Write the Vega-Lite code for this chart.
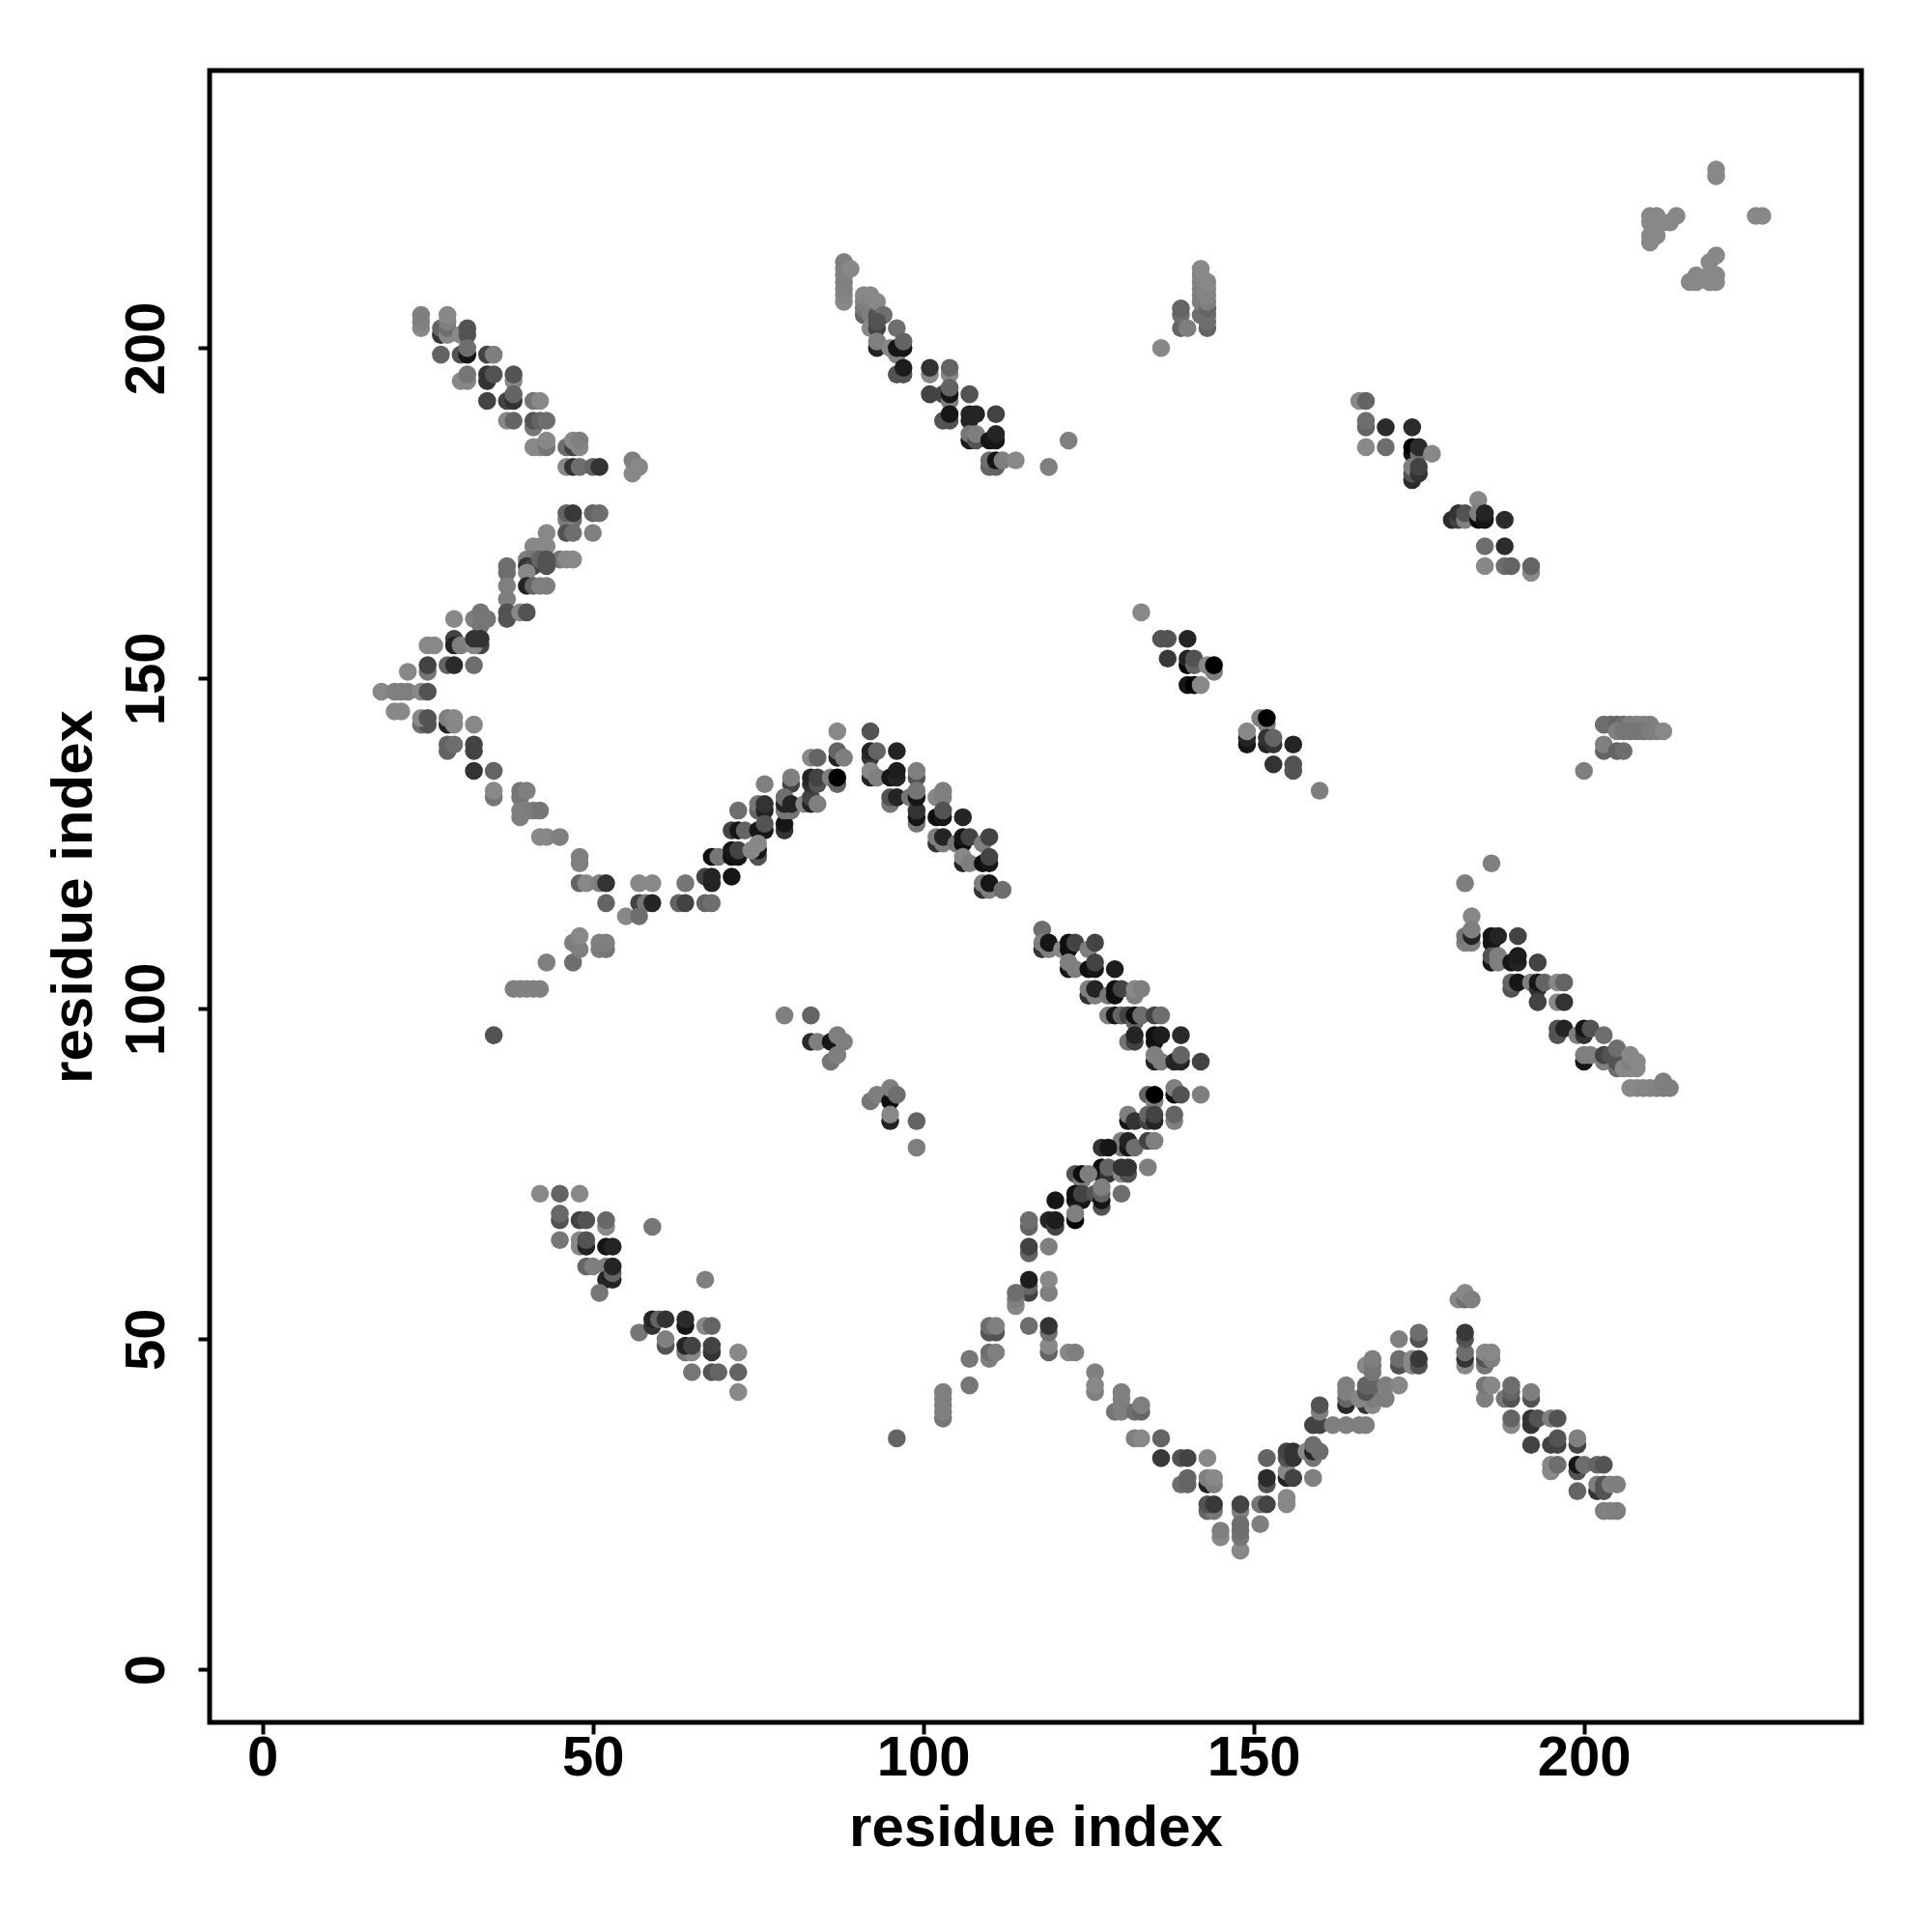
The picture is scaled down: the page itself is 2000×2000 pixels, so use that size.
{"$schema":"https://vega.github.io/schema/vega-lite/v6.json","width":1710,"height":1710,"autosize":"none","padding":{"left":217,"top":73,"right":73,"bottom":217},"background":"white","view":{"stroke":"black","strokeWidth":5},
"data":{"values":[
{"x":42,"y":72,"z":136},{"x":45,"y":72,"z":102},{"x":48,"y":72,"z":136},{"x":45,"y":68,"z":85},{"x":45,"y":69,"z":106},{"x":48,"y":68,"z":68},{"x":49,"y":68,"z":85},{"x":52,"y":67,"z":136},{"x":52,"y":68,"z":106},{"x":45,"y":65,"z":119},{"x":48,"y":64,"z":136},{"x":48,"y":65,"z":136},{"x":49,"y":64,"z":34},{"x":49,"y":65,"z":85},{"x":52,"y":64,"z":17},{"x":53,"y":64,"z":34},{"x":49,"y":61,"z":102},{"x":50,"y":61,"z":128},{"x":52,"y":61,"z":128},{"x":52,"y":59,"z":34},{"x":53,"y":59,"z":34},{"x":53,"y":60,"z":102},{"x":53,"y":61,"z":34},{"x":51,"y":57,"z":119},{"x":59,"y":67,"z":119},{"x":67,"y":59,"z":128},{"x":57,"y":51,"z":119},{"x":59,"y":52,"z":51},{"x":59,"y":53,"z":34},{"x":60,"y":53,"z":102},{"x":61,"y":53,"z":51},{"x":61,"y":49,"z":85},{"x":61,"y":50,"z":128},{"x":64,"y":52,"z":17},{"x":64,"y":53,"z":42},{"x":67,"y":52,"z":136},{"x":68,"y":52,"z":102},{"x":64,"y":48,"z":119},{"x":65,"y":48,"z":136},{"x":64,"y":49,"z":34},{"x":65,"y":49,"z":68},{"x":68,"y":48,"z":51},{"x":68,"y":49,"z":68},{"x":72,"y":48,"z":136},{"x":65,"y":45,"z":119},{"x":68,"y":45,"z":85},{"x":69,"y":45,"z":102},{"x":72,"y":45,"z":102},{"x":72,"y":42,"z":136},
{"x":37,"y":162,"z":128},{"x":37,"y":159,"z":85},{"x":37,"y":160,"z":85},{"x":39,"y":160,"z":136},{"x":40,"y":160,"z":85},{"x":29,"y":159,"z":136},{"x":33,"y":159,"z":17},{"x":32,"y":159,"z":128},{"x":33,"y":160,"z":119},{"x":34,"y":159,"z":119},{"x":33,"y":158,"z":119},{"x":29,"y":156,"z":68},{"x":29,"y":155,"z":34},{"x":30,"y":155,"z":128},{"x":33,"y":155,"z":68},{"x":32,"y":155,"z":136},{"x":32,"y":156,"z":51},{"x":33,"y":156,"z":51},{"x":25,"y":155,"z":136},{"x":26,"y":155,"z":136},{"x":25,"y":151,"z":119},{"x":25,"y":152,"z":68},{"x":28,"y":152,"z":102},{"x":29,"y":152,"z":42},{"x":32,"y":152,"z":112},{"x":22,"y":151,"z":136},{"x":18,"y":148,"z":136},{"x":20,"y":148,"z":130},{"x":21,"y":148,"z":128},{"x":22,"y":148,"z":128},{"x":24,"y":148,"z":136},{"x":25,"y":148,"z":85},{"x":20,"y":145,"z":136},{"x":21,"y":145,"z":136},{"x":24,"y":143,"z":112},{"x":25,"y":143,"z":85},{"x":24,"y":144,"z":136},{"x":25,"y":144,"z":85},{"x":28,"y":143,"z":34},{"x":29,"y":143,"z":136},{"x":28,"y":144,"z":128},{"x":29,"y":144,"z":136},{"x":32,"y":143,"z":136},{"x":28,"y":139,"z":102},{"x":28,"y":140,"z":102},{"x":29,"y":140,"z":112},{"x":32,"y":139,"z":68},{"x":32,"y":140,"z":68},{"x":32,"y":136,"z":51},{"x":35,"y":136,"z":102},{"x":35,"y":132,"z":119},{"x":35,"y":133,"z":136},{"x":39,"y":132,"z":119},{"x":39,"y":133,"z":119},{"x":40,"y":133,"z":128},{"x":39,"y":129,"z":128},{"x":39,"y":130,"z":128},{"x":40,"y":130,"z":128},{"x":41,"y":130,"z":125},{"x":42,"y":130,"z":119},{"x":42,"y":126,"z":136},{"x":43,"y":126,"z":136},{"x":45,"y":126,"z":128},{"x":48,"y":122,"z":128},{"x":48,"y":123,"z":128},{"x":48,"y":119,"z":102},{"x":49,"y":119,"z":136},{"x":51,"y":119,"z":128},{"x":52,"y":119,"z":51},{"x":52,"y":116,"z":102},{"x":57,"y":119,"z":136},{"x":59,"y":119,"z":136},{"x":57,"y":116,"z":68},{"x":58,"y":116,"z":119},{"x":59,"y":116,"z":34},{"x":55,"y":114,"z":136},{"x":57,"y":114,"z":112},
{"x":24,"y":203,"z":136},{"x":24,"y":204,"z":130},{"x":24,"y":205,"z":128},{"x":27,"y":202,"z":51},{"x":27,"y":203,"z":102},{"x":28,"y":202,"z":136},{"x":28,"y":203,"z":112},{"x":28,"y":204,"z":128},{"x":28,"y":205,"z":136},{"x":30,"y":202,"z":136},{"x":31,"y":202,"z":85},{"x":31,"y":203,"z":85},{"x":27,"y":199,"z":102},{"x":30,"y":199,"z":85},{"x":31,"y":199,"z":17},{"x":31,"y":200,"z":112},{"x":34,"y":199,"z":68},{"x":35,"y":199,"z":128},{"x":30,"y":195,"z":136},{"x":31,"y":195,"z":136},{"x":31,"y":196,"z":119},{"x":34,"y":195,"z":51},{"x":34,"y":196,"z":51},{"x":35,"y":196,"z":85},{"x":38,"y":195,"z":136},{"x":38,"y":196,"z":85},{"x":34,"y":192,"z":68},{"x":37,"y":192,"z":68},{"x":38,"y":192,"z":51},{"x":38,"y":193,"z":102},{"x":41,"y":192,"z":119},{"x":42,"y":192,"z":136},{"x":37,"y":189,"z":136},{"x":38,"y":189,"z":102},{"x":41,"y":188,"z":119},{"x":41,"y":189,"z":85},{"x":42,"y":189,"z":102},{"x":43,"y":189,"z":112},{"x":41,"y":185,"z":136},{"x":42,"y":185,"z":136},{"x":43,"y":185,"z":119},{"x":43,"y":186,"z":136},{"x":46,"y":185,"z":112},{"x":47,"y":185,"z":68},{"x":47,"y":186,"z":136},{"x":48,"y":185,"z":136},{"x":48,"y":186,"z":128},{"x":46,"y":182,"z":136},{"x":47,"y":182,"z":51},{"x":48,"y":182,"z":112},{"x":50,"y":182,"z":102},{"x":51,"y":182,"z":51},{"x":56,"y":181,"z":136},{"x":56,"y":183,"z":128},{"x":57,"y":182,"z":136},{"x":47,"y":174,"z":112},{"x":46,"y":174,"z":128},{"x":46,"y":175,"z":102},{"x":47,"y":175,"z":58},{"x":50,"y":175,"z":102},{"x":51,"y":175,"z":112},{"x":46,"y":172,"z":85},{"x":47,"y":172,"z":112},{"x":50,"y":172,"z":128},{"x":43,"y":172,"z":136},{"x":41,"y":170,"z":136},{"x":42,"y":170,"z":136},{"x":43,"y":170,"z":136},{"x":40,"y":168,"z":128},{"x":41,"y":168,"z":119},{"x":42,"y":168,"z":112},{"x":45,"y":168,"z":119},{"x":46,"y":168,"z":136},{"x":47,"y":168,"z":136},{"x":40,"y":167,"z":51},{"x":41,"y":167,"z":68},{"x":42,"y":168,"z":102},{"x":43,"y":167,"z":85},{"x":43,"y":168,"z":85},{"x":40,"y":166,"z":136},{"x":37,"y":166,"z":112},{"x":37,"y":167,"z":112},{"x":37,"y":164,"z":128},{"x":40,"y":164,"z":34},{"x":41,"y":164,"z":102},{"x":42,"y":164,"z":128},{"x":43,"y":164,"z":128},
{"x":35,"y":96,"z":85},{"x":38,"y":103,"z":128},{"x":39,"y":103,"z":130},{"x":40,"y":103,"z":130},{"x":41,"y":103,"z":130},{"x":42,"y":103,"z":130},{"x":43,"y":107,"z":128},{"x":47,"y":107,"z":112},{"x":47,"y":110,"z":128},{"x":48,"y":109,"z":128},{"x":48,"y":111,"z":136},{"x":51,"y":109,"z":128},{"x":52,"y":109,"z":119},{"x":51,"y":110,"z":128},{"x":52,"y":110,"z":128},
{"x":63,"y":116,"z":102},{"x":64,"y":116,"z":68},{"x":67,"y":116,"z":102},{"x":68,"y":116,"z":112},{"x":64,"y":119,"z":119},{"x":67,"y":120,"z":68},{"x":68,"y":119,"z":34},{"x":68,"y":120,"z":34},{"x":71,"y":120,"z":17},{"x":68,"y":123,"z":10},{"x":69,"y":123,"z":119},{"x":71,"y":123,"z":10},{"x":71,"y":124,"z":17},{"x":72,"y":123,"z":17},{"x":72,"y":124,"z":68},{"x":71,"y":127,"z":68},{"x":72,"y":127,"z":17},{"x":73,"y":127,"z":102},{"x":72,"y":130,"z":112},{"x":75,"y":130,"z":102},{"x":75,"y":131,"z":119},{"x":76,"y":130,"z":34},{"x":76,"y":131,"z":51},{"x":75,"y":127,"z":17},{"x":76,"y":127,"z":17},{"x":76,"y":128,"z":85},{"x":75,"y":123,"z":85},{"x":75,"y":124,"z":17},{"x":74,"y":124,"z":136},{"x":75,"y":125,"z":136},{"x":76,"y":134,"z":128},{"x":79,"y":127,"z":51},{"x":79,"y":128,"z":17},{"x":80,"y":134,"z":68},{"x":80,"y":135,"z":128},{"x":79,"y":130,"z":119},{"x":80,"y":130,"z":119},{"x":79,"y":131,"z":34},{"x":79,"y":132,"z":112},{"x":80,"y":131,"z":34},{"x":82,"y":131,"z":136},{"x":83,"y":131,"z":34},{"x":83,"y":132,"z":68},{"x":84,"y":131,"z":128},{"x":83,"y":134,"z":51},{"x":83,"y":135,"z":34},{"x":84,"y":134,"z":85},{"x":84,"y":135,"z":68},{"x":83,"y":138,"z":136},{"x":84,"y":138,"z":102},{"x":86,"y":135,"z":128},{"x":87,"y":134,"z":102},{"x":87,"y":135,"z":0},{"x":87,"y":138,"z":34},{"x":87,"y":139,"z":102},{"x":88,"y":138,"z":128},{"x":87,"y":142,"z":136},{"x":92,"y":142,"z":85},{"x":92,"y":138,"z":51},{"x":92,"y":139,"z":34},{"x":93,"y":139,"z":102},{"x":96,"y":139,"z":34},{"x":92,"y":135,"z":34},{"x":92,"y":136,"z":136},{"x":93,"y":135,"z":128},{"x":95,"y":135,"z":17},{"x":96,"y":135,"z":34},{"x":96,"y":136,"z":26},{"x":95,"y":131,"z":119},{"x":95,"y":132,"z":85},{"x":96,"y":132,"z":34},{"x":98,"y":132,"z":119},{"x":99,"y":135,"z":85},{"x":99,"y":136,"z":128},{"x":99,"y":128,"z":119},{"x":99,"y":129,"z":17},{"x":99,"y":130,"z":51},{"x":99,"y":132,"z":17},{"x":99,"y":133,"z":119},{"x":102,"y":132,"z":136},{"x":103,"y":132,"z":128},{"x":103,"y":133,"z":128},{"x":102,"y":129,"z":10},{"x":103,"y":129,"z":17},{"x":103,"y":130,"z":85},{"x":106,"y":129,"z":34},{"x":102,"y":125,"z":51},{"x":102,"y":126,"z":128},{"x":103,"y":125,"z":128},{"x":103,"y":126,"z":34},{"x":105,"y":125,"z":119},{"x":106,"y":125,"z":10},{"x":106,"y":126,"z":17},{"x":107,"y":126,"z":68},{"x":109,"y":125,"z":128},{"x":110,"y":126,"z":68},{"x":106,"y":122,"z":34},{"x":106,"y":123,"z":136},{"x":107,"y":122,"z":128},{"x":109,"y":122,"z":10},{"x":110,"y":122,"z":17},{"x":110,"y":123,"z":68},{"x":109,"y":118,"z":51},{"x":109,"y":119,"z":128},{"x":110,"y":118,"z":128},{"x":110,"y":119,"z":17},{"x":112,"y":118,"z":112},
{"x":88,"y":207,"z":136},{"x":88,"y":208,"z":133},{"x":88,"y":209,"z":130},{"x":88,"y":210,"z":130},{"x":88,"y":211,"z":130},{"x":88,"y":212,"z":130},{"x":88,"y":213,"z":128},{"x":89,"y":212,"z":136},{"x":91,"y":205,"z":102},{"x":91,"y":206,"z":119},{"x":91,"y":207,"z":128},{"x":91,"y":208,"z":136},{"x":92,"y":205,"z":128},{"x":92,"y":206,"z":128},{"x":92,"y":207,"z":128},{"x":92,"y":208,"z":136},{"x":93,"y":205,"z":85},{"x":93,"y":207,"z":136},{"x":94,"y":205,"z":112},{"x":92,"y":203,"z":136},{"x":93,"y":203,"z":68},{"x":93,"y":204,"z":85},{"x":96,"y":203,"z":112},{"x":93,"y":200,"z":34},{"x":93,"y":201,"z":128},{"x":95,"y":200,"z":136},{"x":96,"y":199,"z":128},{"x":96,"y":200,"z":17},{"x":97,"y":200,"z":17},{"x":97,"y":201,"z":102},{"x":96,"y":196,"z":85},{"x":97,"y":196,"z":85},{"x":97,"y":197,"z":26},{"x":101,"y":196,"z":136},{"x":101,"y":197,"z":51},{"x":104,"y":196,"z":136},{"x":104,"y":197,"z":102},{"x":101,"y":193,"z":68},{"x":103,"y":193,"z":68},{"x":104,"y":192,"z":128},{"x":104,"y":193,"z":17},{"x":104,"y":194,"z":102},{"x":107,"y":193,"z":85},{"x":103,"y":189,"z":85},{"x":104,"y":189,"z":85},{"x":104,"y":190,"z":17},{"x":107,"y":189,"z":34},{"x":107,"y":190,"z":34},{"x":108,"y":190,"z":34},{"x":111,"y":190,"z":68},{"x":107,"y":186,"z":26},{"x":107,"y":187,"z":119},{"x":108,"y":186,"z":85},{"x":108,"y":187,"z":128},{"x":110,"y":186,"z":17},{"x":111,"y":186,"z":17},{"x":111,"y":187,"z":34},{"x":110,"y":182,"z":102},{"x":110,"y":183,"z":112},{"x":111,"y":182,"z":102},{"x":111,"y":183,"z":17},{"x":112,"y":183,"z":128},{"x":114,"y":183,"z":136},{"x":122,"y":186,"z":128},{"x":119,"y":182,"z":128},
{"x":118,"y":112,"z":112},{"x":118,"y":109,"z":51},{"x":118,"y":110,"z":128},{"x":119,"y":109,"z":128},{"x":119,"y":110,"z":17},{"x":121,"y":109,"z":136},{"x":122,"y":109,"z":10},{"x":122,"y":110,"z":10},{"x":123,"y":110,"z":68},{"x":125,"y":109,"z":128},{"x":126,"y":110,"z":68},{"x":122,"y":106,"z":17},{"x":122,"y":107,"z":128},{"x":123,"y":106,"z":128},{"x":125,"y":106,"z":10},{"x":126,"y":106,"z":17},{"x":126,"y":107,"z":68},{"x":129,"y":106,"z":26},{"x":125,"y":102,"z":51},{"x":125,"y":103,"z":128},{"x":126,"y":102,"z":128},{"x":126,"y":103,"z":34},{"x":128,"y":102,"z":119},{"x":129,"y":102,"z":10},{"x":129,"y":103,"z":10},{"x":130,"y":103,"z":68},{"x":132,"y":102,"z":128},{"x":132,"y":103,"z":136},{"x":133,"y":103,"z":128},{"x":128,"y":99,"z":128},{"x":129,"y":99,"z":17},{"x":130,"y":99,"z":102},{"x":131,"y":99,"z":68},{"x":132,"y":98,"z":102},{"x":132,"y":99,"z":10},{"x":133,"y":99,"z":112},{"x":135,"y":99,"z":68},{"x":136,"y":99,"z":112},{"x":131,"y":95,"z":119},{"x":132,"y":95,"z":68},{"x":132,"y":96,"z":34},{"x":135,"y":95,"z":17},{"x":135,"y":96,"z":10},{"x":136,"y":96,"z":26},{"x":139,"y":96,"z":42},{"x":135,"y":92,"z":34},{"x":135,"y":93,"z":128},{"x":136,"y":92,"z":128},{"x":138,"y":92,"z":34},{"x":139,"y":92,"z":34},{"x":139,"y":93,"z":102},{"x":142,"y":92,"z":68},
{"x":134,"y":87,"z":102},{"x":135,"y":86,"z":128},{"x":135,"y":87,"z":0},{"x":138,"y":87,"z":10},{"x":138,"y":88,"z":128},{"x":139,"y":87,"z":85},{"x":142,"y":87,"z":128},{"x":131,"y":83,"z":17},{"x":131,"y":84,"z":128},{"x":132,"y":83,"z":51},{"x":134,"y":83,"z":68},{"x":134,"y":84,"z":102},{"x":135,"y":83,"z":34},{"x":135,"y":84,"z":68},{"x":138,"y":83,"z":128},{"x":138,"y":84,"z":102},{"x":130,"y":79,"z":119},{"x":130,"y":80,"z":128},{"x":131,"y":79,"z":17},{"x":131,"y":80,"z":34},{"x":132,"y":79,"z":112},{"x":134,"y":80,"z":68},{"x":135,"y":80,"z":128},{"x":127,"y":79,"z":51},{"x":128,"y":79,"z":17},{"x":127,"y":75,"z":17},{"x":127,"y":76,"z":10},{"x":128,"y":75,"z":51},{"x":128,"y":76,"z":102},{"x":130,"y":75,"z":136},{"x":131,"y":75,"z":85},{"x":130,"y":76,"z":51},{"x":131,"y":76,"z":51},{"x":134,"y":76,"z":128},{"x":123,"y":75,"z":85},{"x":124,"y":74,"z":128},{"x":124,"y":75,"z":10},{"x":125,"y":75,"z":128},{"x":123,"y":71,"z":17},{"x":123,"y":72,"z":10},{"x":124,"y":71,"z":17},{"x":124,"y":72,"z":68},{"x":126,"y":72,"z":85},{"x":127,"y":70,"z":85},{"x":127,"y":71,"z":17},{"x":127,"y":72,"z":102},{"x":127,"y":73,"z":128},{"x":130,"y":72,"z":112},{"x":120,"y":71,"z":17},{"x":119,"y":68,"z":34},{"x":120,"y":67,"z":68},{"x":120,"y":68,"z":26},{"x":123,"y":68,"z":0},{"x":123,"y":69,"z":128},{"x":116,"y":67,"z":102},{"x":116,"y":68,"z":112},
{"x":116,"y":63,"z":102},{"x":116,"y":64,"z":68},{"x":119,"y":64,"z":128},{"x":116,"y":57,"z":68},{"x":116,"y":58,"z":102},{"x":116,"y":59,"z":26},{"x":119,"y":57,"z":128},{"x":119,"y":59,"z":136},{"x":114,"y":55,"z":136},{"x":114,"y":56,"z":128},{"x":114,"y":57,"z":112},{"x":116,"y":52,"z":112},{"x":119,"y":48,"z":102},{"x":119,"y":49,"z":136},{"x":119,"y":51,"z":112},{"x":119,"y":52,"z":51},{"x":122,"y":48,"z":136},{"x":123,"y":48,"z":128},{"x":126,"y":45,"z":128},{"x":126,"y":42,"z":128},{"x":126,"y":43,"z":136},{"x":129,"y":39,"z":119},{"x":130,"y":39,"z":128},{"x":130,"y":40,"z":128},{"x":130,"y":41,"z":128},{"x":130,"y":42,"z":128},{"x":132,"y":39,"z":112},{"x":133,"y":39,"z":102},{"x":133,"y":40,"z":128},{"x":132,"y":35,"z":128},{"x":133,"y":35,"z":136},{"x":136,"y":35,"z":102},
{"x":136,"y":32,"z":58},{"x":139,"y":32,"z":85},{"x":140,"y":32,"z":68},{"x":143,"y":32,"z":136},{"x":139,"y":28,"z":112},{"x":140,"y":28,"z":102},{"x":140,"y":29,"z":102},{"x":143,"y":28,"z":34},{"x":143,"y":29,"z":128},{"x":144,"y":28,"z":128},{"x":144,"y":29,"z":136},{"x":143,"y":24,"z":102},{"x":144,"y":24,"z":119},{"x":143,"y":25,"z":85},{"x":144,"y":25,"z":58},{"x":145,"y":20,"z":136},{"x":145,"y":21,"z":128},{"x":148,"y":24,"z":128},{"x":148,"y":25,"z":68},{"x":148,"y":18,"z":136},{"x":148,"y":20,"z":119},{"x":148,"y":21,"z":112},{"x":148,"y":22,"z":112},{"x":151,"y":25,"z":119},{"x":152,"y":25,"z":68},{"x":151,"y":22,"z":128},{"x":155,"y":25,"z":136},{"x":155,"y":26,"z":136},{"x":152,"y":28,"z":85},{"x":152,"y":29,"z":42},{"x":152,"y":32,"z":102},{"x":155,"y":29,"z":34},{"x":155,"y":30,"z":136},{"x":156,"y":29,"z":68},{"x":155,"y":32,"z":85},{"x":155,"y":33,"z":68},{"x":156,"y":32,"z":51},{"x":156,"y":33,"z":51},{"x":159,"y":29,"z":128},{"x":158,"y":33,"z":136},{"x":159,"y":32,"z":119},{"x":159,"y":33,"z":34},{"x":159,"y":34,"z":112},{"x":160,"y":33,"z":112},{"x":159,"y":37,"z":68},{"x":160,"y":37,"z":68},{"x":160,"y":39,"z":128},{"x":160,"y":40,"z":85},{"x":162,"y":37,"z":128},{"x":164,"y":37,"z":128},{"x":166,"y":37,"z":128},{"x":167,"y":37,"z":128},{"x":164,"y":40,"z":42},{"x":164,"y":41,"z":102},{"x":164,"y":42,"z":128},{"x":164,"y":43,"z":128},{"x":167,"y":40,"z":51},{"x":166,"y":41,"z":136},{"x":168,"y":40,"z":136},{"x":168,"y":41,"z":128},{"x":167,"y":42,"z":85},{"x":167,"y":43,"z":102},{"x":168,"y":43,"z":102},{"x":167,"y":46,"z":136},{"x":168,"y":45,"z":119},{"x":168,"y":46,"z":119},{"x":168,"y":47,"z":128},{"x":170,"y":41,"z":128},{"x":170,"y":43,"z":128},{"x":172,"y":43,"z":136},{"x":172,"y":46,"z":85},{"x":172,"y":47,"z":112},{"x":172,"y":50,"z":128},{"x":174,"y":46,"z":136},{"x":174,"y":47,"z":136},{"x":175,"y":46,"z":85},{"x":175,"y":47,"z":58},{"x":175,"y":50,"z":85},{"x":175,"y":51,"z":112},{"x":182,"y":46,"z":136},{"x":182,"y":47,"z":51},{"x":182,"y":48,"z":112},{"x":182,"y":50,"z":85},{"x":182,"y":51,"z":58},{"x":181,"y":56,"z":136},{"x":182,"y":56,"z":112},{"x":182,"y":57,"z":136},{"x":183,"y":56,"z":128},{"x":185,"y":46,"z":119},{"x":185,"y":47,"z":85},{"x":185,"y":48,"z":136},{"x":186,"y":47,"z":128},{"x":186,"y":48,"z":136},{"x":185,"y":41,"z":128},{"x":185,"y":43,"z":119},{"x":186,"y":43,"z":136},{"x":188,"y":41,"z":119},{"x":189,"y":41,"z":85},{"x":189,"y":42,"z":102},{"x":189,"y":43,"z":112},{"x":192,"y":41,"z":85},{"x":192,"y":42,"z":128},{"x":189,"y":37,"z":136},{"x":189,"y":38,"z":102},{"x":192,"y":37,"z":51},{"x":192,"y":38,"z":51},{"x":193,"y":38,"z":85},{"x":195,"y":38,"z":128},{"x":196,"y":38,"z":85},{"x":192,"y":34,"z":68},{"x":195,"y":34,"z":68},{"x":196,"y":34,"z":68},{"x":196,"y":35,"z":85},{"x":199,"y":34,"z":68},{"x":199,"y":35,"z":128},{"x":195,"y":30,"z":136},{"x":195,"y":31,"z":136},{"x":196,"y":31,"z":112},{"x":199,"y":30,"z":85},{"x":199,"y":31,"z":17},{"x":200,"y":31,"z":112},{"x":202,"y":31,"z":102},{"x":203,"y":31,"z":85},{"x":199,"y":27,"z":102},{"x":202,"y":27,"z":51},{"x":202,"y":28,"z":128},{"x":203,"y":27,"z":85},{"x":203,"y":28,"z":85},{"x":204,"y":28,"z":128},{"x":205,"y":28,"z":128},{"x":203,"y":24,"z":128},{"x":204,"y":24,"z":130},{"x":205,"y":24,"z":128},
{"x":186,"y":122,"z":128},{"x":182,"y":119,"z":128},{"x":183,"y":114,"z":136},{"x":182,"y":110,"z":128},{"x":182,"y":111,"z":119},{"x":183,"y":110,"z":128},{"x":183,"y":111,"z":34},{"x":183,"y":112,"z":128},{"x":186,"y":110,"z":17},{"x":186,"y":111,"z":17},{"x":187,"y":111,"z":34},{"x":190,"y":111,"z":68},{"x":186,"y":107,"z":17},{"x":186,"y":108,"z":85},{"x":187,"y":107,"z":128},{"x":187,"y":108,"z":128},{"x":189,"y":107,"z":17},{"x":190,"y":107,"z":34},{"x":190,"y":108,"z":26},{"x":193,"y":107,"z":68},{"x":189,"y":103,"z":85},{"x":189,"y":104,"z":102},{"x":190,"y":104,"z":17},{"x":192,"y":104,"z":128},{"x":193,"y":103,"z":51},{"x":193,"y":104,"z":17},{"x":194,"y":104,"z":102},{"x":196,"y":104,"z":136},{"x":197,"y":104,"z":102},{"x":193,"y":101,"z":68},{"x":196,"y":101,"z":136},{"x":197,"y":101,"z":51},{"x":196,"y":96,"z":85},{"x":196,"y":97,"z":85},{"x":197,"y":97,"z":34},{"x":199,"y":96,"z":128},{"x":200,"y":96,"z":51},{"x":200,"y":97,"z":17},{"x":201,"y":97,"z":85},{"x":203,"y":96,"z":112},{"x":200,"y":92,"z":17},{"x":200,"y":93,"z":128},{"x":201,"y":93,"z":128},{"x":203,"y":92,"z":128},{"x":203,"y":93,"z":68},{"x":204,"y":93,"z":85},{"x":205,"y":91,"z":112},{"x":205,"y":92,"z":85},{"x":205,"y":94,"z":112},{"x":206,"y":91,"z":136},{"x":207,"y":91,"z":136},{"x":208,"y":91,"z":136},{"x":207,"y":92,"z":128},{"x":208,"y":92,"z":136},{"x":207,"y":93,"z":136},{"x":207,"y":88,"z":136},{"x":208,"y":88,"z":136},{"x":209,"y":88,"z":133},{"x":210,"y":88,"z":133},{"x":211,"y":88,"z":133},{"x":212,"y":88,"z":128},{"x":213,"y":88,"z":128},{"x":212,"y":89,"z":128},
{"x":220,"y":226,"z":136},{"x":220,"y":227,"z":136},{"x":210,"y":216,"z":136},{"x":210,"y":217,"z":136},{"x":211,"y":217,"z":136},{"x":210,"y":219,"z":136},{"x":211,"y":219,"z":136},{"x":212,"y":219,"z":136},{"x":213,"y":219,"z":136},{"x":210,"y":220,"z":136},{"x":211,"y":220,"z":136},{"x":214,"y":220,"z":136},{"x":226,"y":220,"z":136},{"x":227,"y":220,"z":136},{"x":216,"y":210,"z":136},{"x":217,"y":210,"z":136},{"x":217,"y":211,"z":136},{"x":219,"y":210,"z":136},{"x":220,"y":210,"z":136},{"x":219,"y":211,"z":136},{"x":220,"y":211,"z":136},{"x":219,"y":213,"z":136},{"x":220,"y":214,"z":136},
{"x":142,"y":205,"z":112},{"x":142,"y":207,"z":128},{"x":142,"y":208,"z":128},{"x":142,"y":209,"z":128},{"x":142,"y":210,"z":130},{"x":142,"y":211,"z":133},{"x":142,"y":212,"z":136},{"x":143,"y":203,"z":102},{"x":143,"y":204,"z":112},{"x":143,"y":205,"z":112},{"x":143,"y":206,"z":102},{"x":143,"y":207,"z":128},{"x":143,"y":208,"z":133},{"x":143,"y":209,"z":133},{"x":143,"y":210,"z":136},{"x":139,"y":203,"z":102},{"x":139,"y":205,"z":112},{"x":139,"y":206,"z":102},{"x":140,"y":203,"z":128},{"x":136,"y":200,"z":136},
{"x":166,"y":192,"z":136},{"x":167,"y":192,"z":102},{"x":167,"y":188,"z":102},{"x":167,"y":189,"z":112},{"x":170,"y":188,"z":42},{"x":174,"y":188,"z":42},{"x":167,"y":185,"z":136},{"x":170,"y":185,"z":112},{"x":174,"y":184,"z":17},{"x":174,"y":185,"z":0},{"x":175,"y":184,"z":112},{"x":175,"y":185,"z":42},{"x":177,"y":184,"z":136},{"x":174,"y":180,"z":42},{"x":174,"y":181,"z":85},{"x":174,"y":182,"z":128},{"x":175,"y":181,"z":51},{"x":175,"y":182,"z":68},{"x":184,"y":177,"z":136},{"x":180,"y":174,"z":42},{"x":181,"y":174,"z":68},{"x":181,"y":175,"z":51},{"x":182,"y":174,"z":128},{"x":182,"y":175,"z":85},{"x":184,"y":174,"z":10},{"x":184,"y":175,"z":128},{"x":185,"y":174,"z":17},{"x":185,"y":175,"z":34},{"x":188,"y":174,"z":42},{"x":185,"y":170,"z":112},{"x":188,"y":170,"z":42},{"x":185,"y":167,"z":136},{"x":188,"y":167,"z":112},{"x":189,"y":167,"z":102},{"x":192,"y":166,"z":136},{"x":192,"y":167,"z":102},
{"x":133,"y":160,"z":136},{"x":136,"y":156,"z":85},{"x":137,"y":156,"z":85},{"x":140,"y":156,"z":34},{"x":137,"y":153,"z":58},{"x":140,"y":152,"z":0},{"x":140,"y":153,"z":34},{"x":141,"y":152,"z":102},{"x":141,"y":153,"z":85},{"x":143,"y":152,"z":136},{"x":144,"y":151,"z":128},{"x":144,"y":152,"z":0},{"x":140,"y":149,"z":17},{"x":141,"y":149,"z":0},{"x":142,"y":149,"z":136},
{"x":151,"y":144,"z":128},{"x":152,"y":143,"z":128},{"x":152,"y":144,"z":0},{"x":149,"y":140,"z":17},{"x":149,"y":141,"z":34},{"x":149,"y":142,"z":136},{"x":152,"y":140,"z":34},{"x":152,"y":141,"z":51},{"x":153,"y":140,"z":51},{"x":153,"y":141,"z":102},{"x":156,"y":140,"z":34},{"x":153,"y":137,"z":51},{"x":156,"y":136,"z":85},{"x":156,"y":137,"z":85},{"x":160,"y":133,"z":128},
{"x":203,"y":143,"z":112},{"x":204,"y":143,"z":112},{"x":205,"y":143,"z":102},{"x":206,"y":143,"z":112},{"x":207,"y":143,"z":128},{"x":208,"y":143,"z":128},{"x":209,"y":143,"z":128},{"x":210,"y":143,"z":128},{"x":205,"y":142,"z":128},{"x":206,"y":142,"z":119},{"x":207,"y":142,"z":119},{"x":208,"y":142,"z":119},{"x":209,"y":142,"z":119},{"x":210,"y":142,"z":125},{"x":211,"y":142,"z":128},{"x":212,"y":142,"z":136},{"x":203,"y":139,"z":102},{"x":203,"y":140,"z":128},{"x":205,"y":139,"z":102},{"x":206,"y":139,"z":112},{"x":200,"y":136,"z":128},
{"x":79,"y":99,"z":128},{"x":83,"y":99,"z":102},{"x":83,"y":95,"z":42},{"x":84,"y":95,"z":128},{"x":86,"y":95,"z":17},{"x":87,"y":95,"z":17},{"x":87,"y":96,"z":128},{"x":88,"y":95,"z":128},{"x":86,"y":92,"z":119},{"x":87,"y":93,"z":128},{"x":92,"y":86,"z":119},{"x":93,"y":87,"z":128},{"x":95,"y":86,"z":10},{"x":95,"y":88,"z":128},{"x":96,"y":87,"z":112},{"x":95,"y":83,"z":34},{"x":95,"y":84,"z":136},{"x":99,"y":83,"z":102},{"x":99,"y":79,"z":128},
{"x":110,"y":51,"z":85},{"x":111,"y":51,"z":85},{"x":110,"y":52,"z":112},{"x":111,"y":52,"z":128},{"x":110,"y":47,"z":128},{"x":110,"y":48,"z":112},{"x":111,"y":48,"z":128},{"x":107,"y":47,"z":119},{"x":107,"y":43,"z":119},{"x":103,"y":38,"z":119},{"x":103,"y":39,"z":128},{"x":103,"y":40,"z":128},{"x":103,"y":41,"z":128},{"x":103,"y":42,"z":128},{"x":96,"y":35,"z":102}
]},
"mark":{"type":"point","filled":true,"opacity":1,"size":345},
"encoding":{
"x":{"field":"x","type":"quantitative","scale":{"domain":[-8,242],"nice":false,"zero":false},"axis":{"title":"residue index","values":[0,50,100,150,200],"grid":false,"domain":false,"ticks":true,"tickSize":12,"tickWidth":4,"tickColor":"black","labelFont":"Liberation Sans","labelFontWeight":"bold","labelFontSize":58,"labelColor":"black","labelPadding":-4,"titleFont":"Liberation Sans","titleFontWeight":"bold","titleFontSize":60,"titleColor":"black","titlePadding":14}},
"y":{"field":"y","type":"quantitative","scale":{"domain":[-8,242],"nice":false,"zero":false},"axis":{"title":"residue index","values":[0,50,100,150,200],"grid":false,"domain":false,"ticks":true,"tickSize":12,"tickWidth":4,"tickColor":"black","labelFont":"Liberation Sans","labelFontWeight":"bold","labelFontSize":58,"labelColor":"black","labelAngle":-90,"labelAlign":"center","labelBaseline":"bottom","labelPadding":24,"titleFont":"Liberation Sans","titleFontWeight":"bold","titleFontSize":60,"titleColor":"black","titlePadding":16}},
"color":{"field":"z","type":"quantitative","scale":{"domain":[0,140],"range":["#000000","#8c8c8c"]},"legend":null}
}}
